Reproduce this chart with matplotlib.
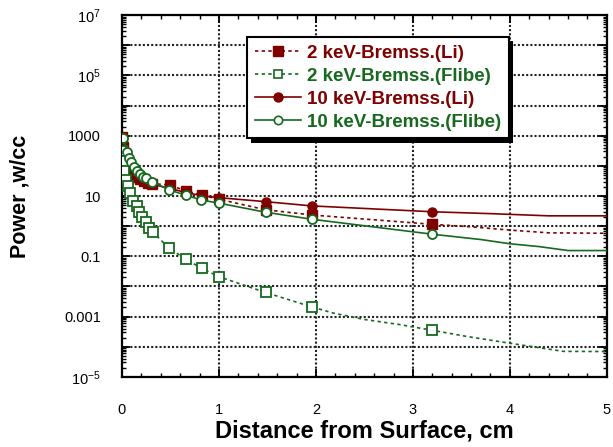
import numpy as np
import matplotlib
matplotlib.use('Agg')
import matplotlib.pyplot as plt
from matplotlib.ticker import FixedLocator, LogLocator, MultipleLocator, FuncFormatter
from matplotlib.lines import Line2D
import matplotlib.patheffects as pe

plt.rcParams['font.family'] = ['Liberation Sans', 'DejaVu Sans']
plt.rcParams['mathtext.fontset'] = 'custom'
plt.rcParams['mathtext.rm'] = 'Liberation Sans'
plt.rcParams['mathtext.it'] = 'Liberation Sans'
plt.rcParams['mathtext.bf'] = 'Liberation Sans:bold'

RED = '#800000'
GREEN = '#17691f'

# 2 keV Bremss. (Li) - markers on the first 19 points
x_2li = [0.0, 0.015, 0.03, 0.05, 0.07, 0.09, 0.12, 0.15, 0.19, 0.23, 0.27, 0.31, 0.49, 0.657, 0.82, 1.0, 1.48, 1.955, 3.2,
         3.6, 4.0, 4.4, 5.0]
y_2li = [930, 420, 200, 120, 85, 65, 50, 42, 36, 31, 28, 26, 23, 15, 10.7, 7.8, 3.5, 2.35, 1.15,
         0.95, 0.74, 0.6, 0.58]
n_2li = 19

# 2 keV Bremss. (Flibe) - marked points
x_2fl = [0.0, 0.01, 0.02, 0.04, 0.06, 0.08, 0.117, 0.15, 0.175, 0.21, 0.245, 0.28, 0.32, 0.485, 0.657, 0.82, 1.0, 1.48, 1.955,
         3.2]
y_2fl = [300, 150, 70, 35, 22, 13, 7, 4.5, 2.9, 2.0, 1.35, 0.9, 0.63, 0.185, 0.081, 0.04, 0.021, 0.0063, 0.0021,
         3.5e-4]
# extra line points without markers
x_2fl_line = [2.18, 2.5, 2.85, 3.55, 4.0, 4.55, 5.0]
y_2fl_line = [1.3e-3, 8e-4, 5.5e-4, 2.2e-4, 1.3e-4, 7e-5, 6.9e-5]

# 10 keV Bremss. (Li)
x_10li = [0.0, 0.01, 0.02, 0.05, 0.08, 0.1, 0.13, 0.16, 0.2, 0.25, 0.3, 0.49, 0.66, 0.82, 1.0, 1.48, 1.955, 3.2,
          3.8, 4.4, 5.0]
y_10li = [600, 300, 150, 90, 65, 55, 45, 38, 33, 28, 25, 18, 13, 10.3, 8.8, 6.5, 4.7, 3.0,
          2.6, 2.2, 2.2]
n_10li = 18

# 10 keV Bremss. (Flibe)
x_10fl = [0.01, 0.055, 0.07, 0.09, 0.12, 0.15, 0.19, 0.22, 0.25, 0.31, 0.485, 0.657, 0.815, 1.0, 1.48, 1.955, 3.2,
          3.7, 4.0, 4.3, 4.6, 5.0]
y_10fl = [820, 280, 180, 130, 93, 69, 53, 44, 39, 30, 16, 10.7, 7.4, 5.8, 2.9, 1.7, 0.54,
          0.36, 0.26, 0.21, 0.155, 0.155]
n_10fl = 17

labels = ['2 keV-Bremss.(Li)', '2 keV-Bremss.(Flibe)', '10 keV-Bremss.(Li)', '10 keV-Bremss.(Flibe)']

fig = plt.figure(figsize=(6.13, 4.47), dpi=100)
ax = fig.add_axes([0.199, 0.157, 0.791, 0.809])

dot = (0, (2, 2))

order = np.argsort(x_2fl + x_2fl_line)
line_x = np.array(x_2fl + x_2fl_line)[order]
line_y = np.array(y_2fl + y_2fl_line)[order]

ax.plot(x_10li, y_10li, '-', color=RED, lw=1.2, marker='o', ms=6.5, mfc=RED, mec=RED,
        markevery=slice(0, n_10li), zorder=3)
ax.plot(x_2li, y_2li, linestyle=dot, color=RED, lw=1.2, marker='s', ms=7, mfc=RED, mec=RED,
        markevery=slice(0, n_2li), zorder=4)
ax.plot(line_x, line_y, linestyle=dot, color=GREEN, lw=1.2, zorder=4)
ax.plot(x_2fl, y_2fl, linestyle='none', color=GREEN, marker='s', ms=7, mfc='white', mec=GREEN,
        mew=1.3, zorder=5)
ax.plot(x_10fl, y_10fl, '-', color=GREEN, lw=1.2, marker='o', ms=6.5, mfc='white', mec=GREEN,
        mew=1.3, markevery=slice(0, n_10fl), zorder=6)

ax.set_yscale('log')
ax.set_xlim(0, 5)
ax.set_ylim(1e-5, 1e7)

ax.xaxis.set_major_locator(MultipleLocator(1))
ax.xaxis.set_minor_locator(MultipleLocator(0.2))
ax.yaxis.set_major_locator(FixedLocator([10.0 ** k for k in range(-5, 8)]))
ax.yaxis.set_minor_locator(LogLocator(base=10, subs=np.arange(2, 10) * 1.0, numticks=50))

ytext = {7: '$10^{7}$', 5: '$10^{5}$', 3: '1000', 1: '10', -1: '0.1', -3: '0.001', -5: '$10^{-5}$'}


def yfmt(v, pos):
    k = int(round(np.log10(v)))
    return ytext.get(k, '')


ax.yaxis.set_major_formatter(FuncFormatter(yfmt))
ax.yaxis.set_minor_formatter(FuncFormatter(lambda v, p: ''))

ax.tick_params(which='both', direction='in', top=True, right=True, color='black')
ax.tick_params(which='major', length=6, width=1.3, labelsize=10.5)
ax.tick_params(which='minor', length=3, width=1.0)
ax.tick_params(axis='x', which='major', pad=19)
ax.tick_params(axis='y', which='major', pad=15)

ax.grid(True, which='major', color='#222222', linestyle=(0, (1, 1)), linewidth=1.5)
ax.set_axisbelow(True)
for s in ax.spines.values():
    s.set_linewidth(1.6)

ax.set_xlabel('Distance from Surface, cm', fontsize=17, fontweight='bold', labelpad=2)
ax.set_ylabel('Power ,w/cc', fontsize=15.5, fontweight='bold', labelpad=24)

# legend in the reference order
handles = [
    Line2D([], [], linestyle=dot, color=RED, lw=1.2, marker='s', ms=7, mfc=RED, mec=RED),
    Line2D([], [], linestyle=dot, color=GREEN, lw=1.2, marker='s', ms=6, mfc='white', mec=GREEN, mew=1.2),
    Line2D([], [], linestyle='-', color=RED, lw=1.2, marker='o', ms=6.5, mfc=RED, mec=RED),
    Line2D([], [], linestyle='-', color=GREEN, lw=1.2, marker='o', ms=6, mfc='white', mec=GREEN, mew=1.2),
]
leg = ax.legend(handles, labels, loc='upper left', bbox_to_anchor=(0.258, 0.94), borderaxespad=0,
                prop={'weight': 'bold', 'size': 13.5}, frameon=True, fancybox=False, framealpha=1,
                handlelength=2.5, handletextpad=0.3, labelspacing=0.32, borderpad=0.4)
frame = leg.get_frame()
frame.set_edgecolor('black')
frame.set_facecolor('white')
frame.set_linewidth(1.5)
frame.set_path_effects([pe.SimplePatchShadow(offset=(3, -3), shadow_rgbFace='black', alpha=1), pe.Normal()])
for t, c in zip(leg.get_texts(), [RED, GREEN, RED, GREEN]):
    t.set_color(c)
leg.set_zorder(10)

fig.savefig('out.png', dpi=100)
